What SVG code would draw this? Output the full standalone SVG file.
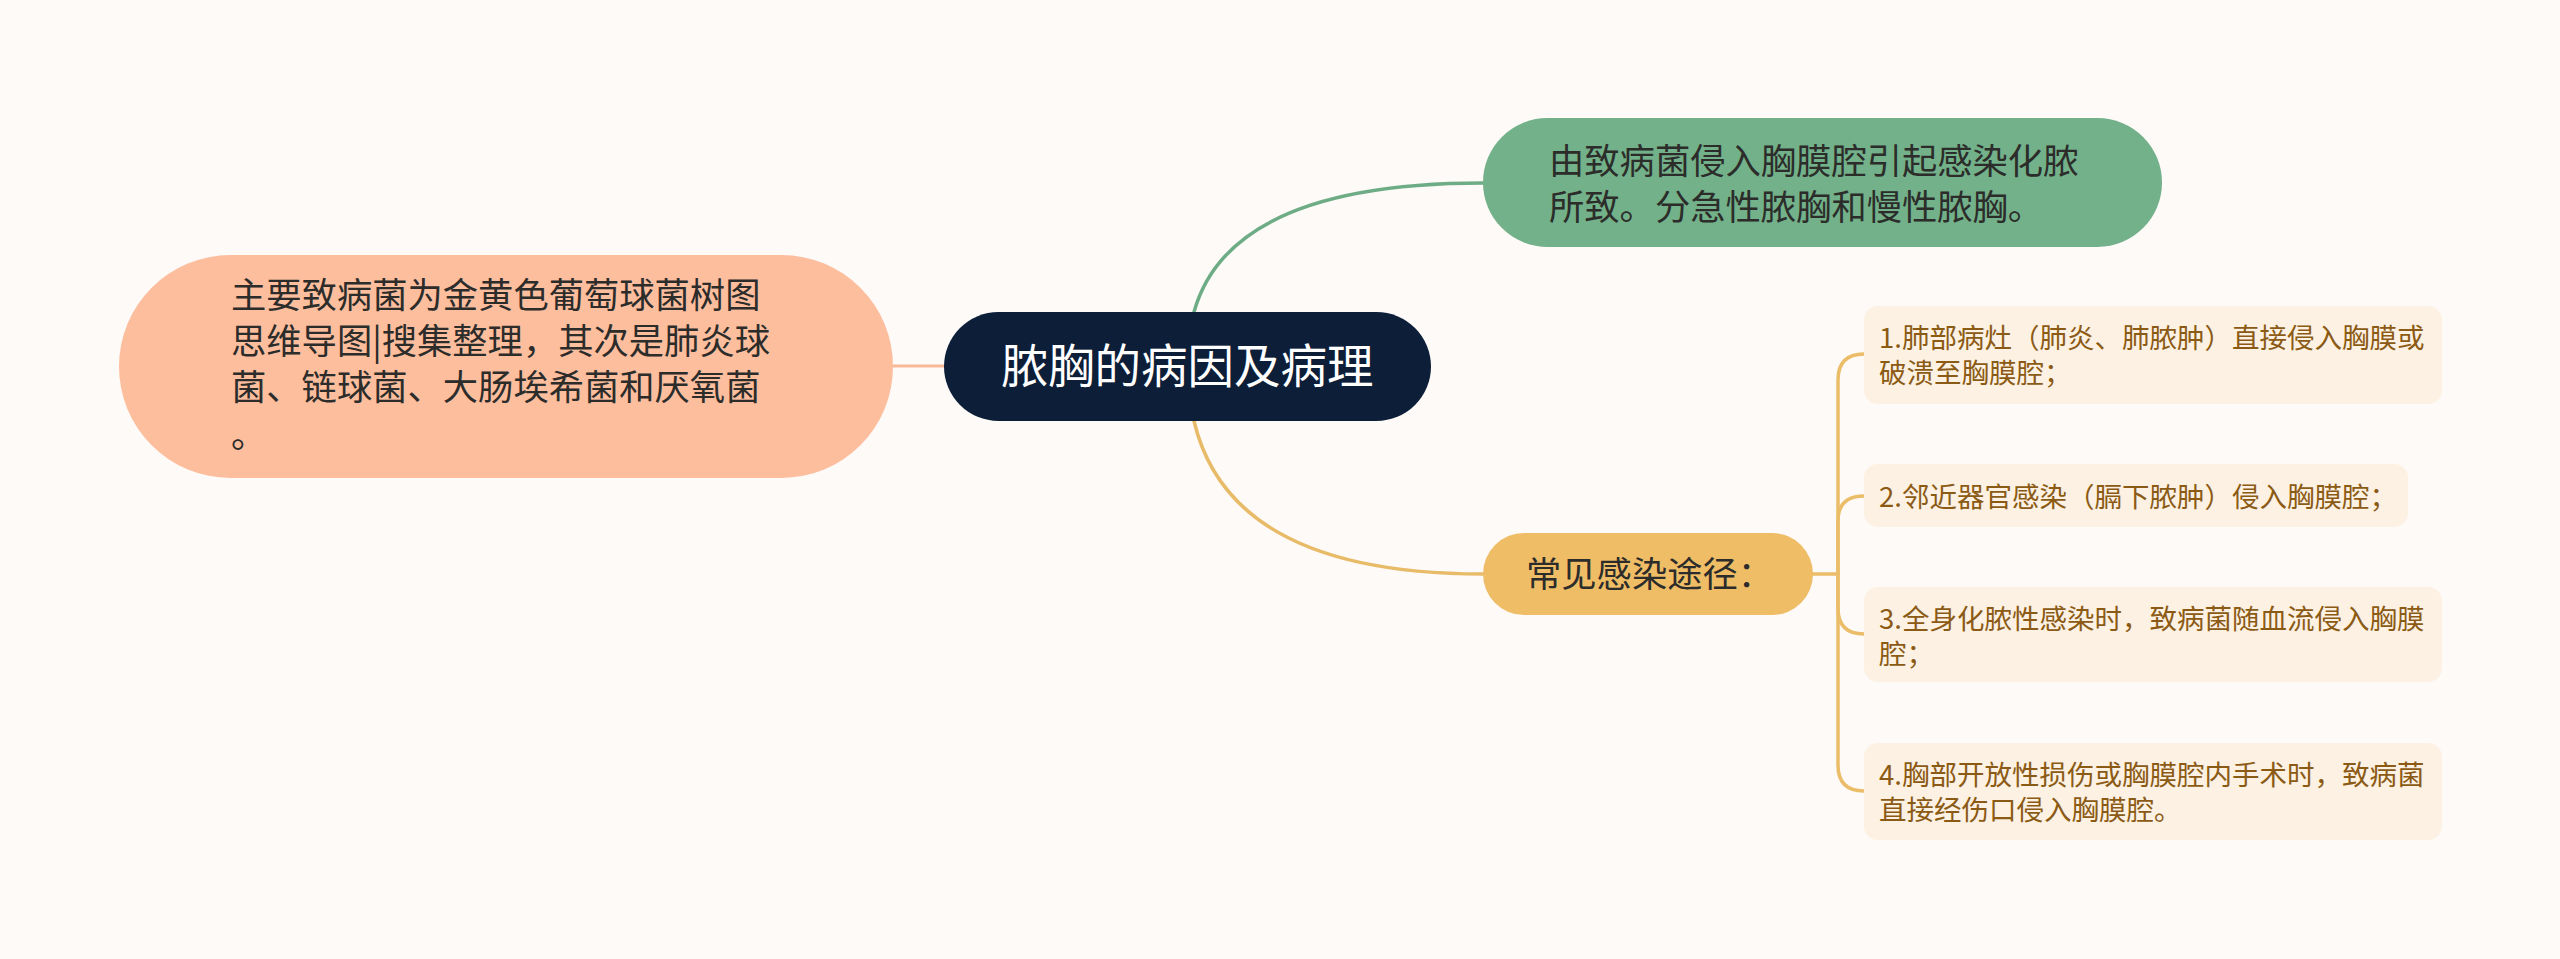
<svg xmlns="http://www.w3.org/2000/svg" width="2560" height="959" viewBox="0 0 2560 959">
<style>
.t{font-family:"Microsoft YaHei","Noto Sans CJK SC","Noto Sans",sans-serif;}
.dark{fill:#2c2c2a;font-size:35.3px;}
.root{fill:#ffffff;font-size:46.5px;}
.leaf{fill:#8b5a14;font-size:27.5px;}
.lf{fill:#fcf1e2;}
.c{fill:none;stroke-linecap:round;}
</style>
<rect width="2560" height="959" fill="#fdfaf8"/>
<g id="connectors">
<path class="c" d="M944,366 H893" stroke="#f7b999" stroke-width="3"/>
<path class="c" d="M1194,312 Q1230,183 1483,183" stroke="#6eac86" stroke-width="3.5"/>
<path class="c" d="M1194,421 Q1230,574 1483,574" stroke="#e8bb68" stroke-width="3.5"/>
<g stroke="#ecbd68" stroke-width="3.5" class="c">
<path class="c" d="M1812,574 H1838"/>
<path class="c" d="M1838,574 V380 Q1838,354 1864,354"/>
<path class="c" d="M1838,574 V521 Q1838,496 1864,496"/>
<path class="c" d="M1838,574 V608 Q1838,634 1864,634"/>
<path class="c" d="M1838,574 V765 Q1838,791 1864,791"/>
</g>
</g>
<g id="root">
<rect x="944" y="312" width="487" height="109" rx="54.5" fill="#0c1e38"/>
<text class="t root" x="1187.5" y="383" text-anchor="middle">脓胸的病因及病理</text>
</g>
<g id="node-green">
<rect x="1483" y="118" width="679" height="129" rx="64.5" fill="#72b189"/>
<text class="t dark" x="1549" y="174">由致病菌侵入胸膜腔引起感染化脓</text>
<text class="t dark" x="1549" y="220">所致。分急性脓胸和慢性脓胸。</text>
</g>
<g id="node-left">
<rect x="119" y="255" width="774" height="223" rx="111.5" fill="#fdbe9e"/>
<text class="t dark" x="231" y="308">主要致病菌为金黄色葡萄球菌树图</text>
<text class="t dark" x="231" y="354">思维导图|搜集整理，其次是肺炎球</text>
<text class="t dark" x="231" y="400">菌、链球菌、大肠埃希菌和厌氧菌</text>
<text class="t dark" x="231" y="448">。</text>
</g>
<g id="node-orange">
<rect x="1483" y="533" width="330" height="82" rx="41" fill="#f0bd67"/>
<text class="t dark" x="1526" y="587">常见感染途径：</text>
</g>
<g id="leaf-1">
<rect class="lf" x="1864" y="306" width="578" height="98" rx="14"/>
<text class="t leaf" x="1879" y="348">1.肺部病灶（肺炎、肺脓肿）直接侵入胸膜或</text>
<text class="t leaf" x="1879" y="383">破溃至胸膜腔；</text>
</g>
<g id="leaf-2">
<rect class="lf" x="1864" y="464" width="544" height="63" rx="14"/>
<text class="t leaf" x="1879" y="507">2.邻近器官感染（膈下脓肿）侵入胸膜腔；</text>
</g>
<g id="leaf-3">
<rect class="lf" x="1864" y="587" width="578" height="95" rx="14"/>
<text class="t leaf" x="1879" y="629">3.全身化脓性感染时，致病菌随血流侵入胸膜</text>
<text class="t leaf" x="1879" y="664">腔；</text>
</g>
<g id="leaf-4">
<rect class="lf" x="1864" y="743" width="578" height="97" rx="14"/>
<text class="t leaf" x="1879" y="785">4.胸部开放性损伤或胸膜腔内手术时，致病菌</text>
<text class="t leaf" x="1879" y="820">直接经伤口侵入胸膜腔。</text>
</g>
</svg>
